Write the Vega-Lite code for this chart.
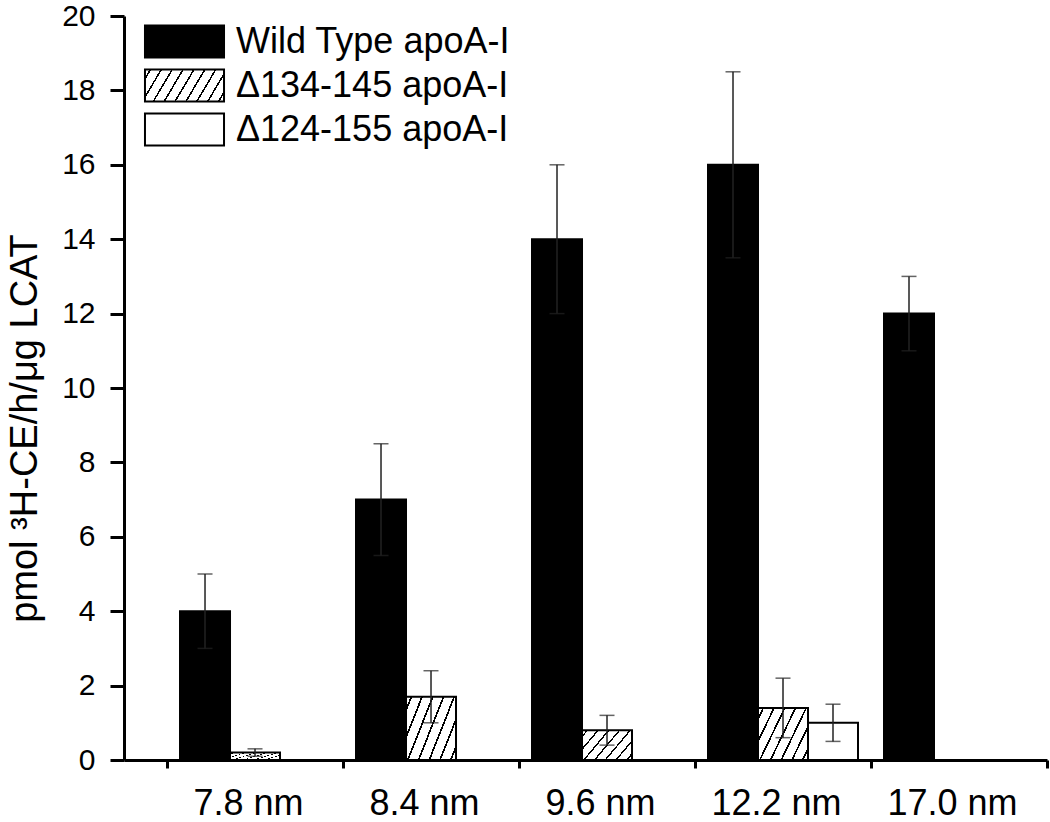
{
  "$schema": "https://vega.github.io/schema/vega-lite/v6.json",
  "width": 923,
  "height": 744,
  "autosize": {"type": "none"},
  "padding": {"left": 124, "top": 16, "right": 3, "bottom": 62},
  "background": "white",
  "config": {
    "view": {"stroke": null},
    "font": "Liberation Sans",
    "axisY": {
      "grid": false,
      "labelFontSize": 30,
      "labelFont": "Liberation Sans",
      "labelColor": "black",
      "tickSize": 14,
      "tickWidth": 3,
      "tickColor": "black",
      "domainWidth": 3,
      "domainColor": "black",
      "labelPadding": 15,
      "titleFontSize": 38,
      "titleFont": "Liberation Sans",
      "titleFontWeight": "normal",
      "titleColor": "black"
    }
  },
  "data": {
    "values": [
      {"size": "7.8 nm", "group": "Wild Type apoA-I", "value": 4, "lo": 3, "hi": 5},
      {"size": "7.8 nm", "group": "Δ134-145 apoA-I", "value": 0.2, "lo": 0.1, "hi": 0.3},
      {"size": "8.4 nm", "group": "Wild Type apoA-I", "value": 7, "lo": 5.5, "hi": 8.5},
      {"size": "8.4 nm", "group": "Δ134-145 apoA-I", "value": 1.7, "lo": 1.0, "hi": 2.4},
      {"size": "9.6 nm", "group": "Wild Type apoA-I", "value": 14, "lo": 12, "hi": 16},
      {"size": "9.6 nm", "group": "Δ134-145 apoA-I", "value": 0.8, "lo": 0.4, "hi": 1.2},
      {"size": "12.2 nm", "group": "Wild Type apoA-I", "value": 16, "lo": 13.5, "hi": 18.5},
      {"size": "12.2 nm", "group": "Δ134-145 apoA-I", "value": 1.4, "lo": 0.6, "hi": 2.2},
      {"size": "12.2 nm", "group": "Δ124-155 apoA-I", "value": 1.0, "lo": 0.5, "hi": 1.5},
      {"size": "17.0 nm", "group": "Wild Type apoA-I", "value": 12, "lo": 11, "hi": 13}
    ]
  },
  "encoding": {
    "x": {
      "field": "size",
      "type": "nominal",
      "sort": ["7.8 nm", "8.4 nm", "9.6 nm", "12.2 nm", "17.0 nm"],
      "scale": {"paddingInner": 0, "paddingOuter": 0.1222, "align": 1},
      "axis": {
        "title": null,
        "labelAngle": 0,
        "labelFontSize": 36,
        "labelFont": "Liberation Sans",
        "labelColor": "black",
        "labelOffset": -7,
        "tickBand": "extent",
        "tickSize": 8,
        "tickWidth": 3,
        "tickColor": "black",
        "domainWidth": 3,
        "domainColor": "black",
        "labelPadding": 18
      }
    },
    "xOffset": {
      "field": "group",
      "type": "nominal",
      "scale": {
        "domain": ["Wild Type apoA-I", "Δ134-145 apoA-I", "Δ124-155 apoA-I"],
        "paddingInner": 0,
        "paddingOuter": 0.26
      }
    }
  },
  "layer": [
    {
      "mark": {"type": "bar", "stroke": "black", "strokeWidth": 2},
      "encoding": {
        "y": {
          "field": "value",
          "type": "quantitative",
          "scale": {"domain": [0, 20], "nice": false},
          "axis": {"title": "pmol ³H-CE/h/μg LCAT", "values": [0, 2, 4, 6, 8, 10, 12, 14, 16, 18, 20], "titleAngle": -90, "titleX": -88, "titleY": 412, "titleAlign": "center", "titleBaseline": "alphabetic"}
        },
        "fill": {
          "field": "group",
          "type": "nominal",
          "scale": {
            "domain": ["Wild Type apoA-I", "Δ134-145 apoA-I", "Δ124-155 apoA-I"],
            "range": [
              "#000000",
              {"expr": "{gradient: 'linear', x1: 0, y1: 0, x2: 1.172, y2: 0.281, stops: [{offset: 0, color: '#ffffff'}, {offset: 0.0466, color: '#ffffff'}, {offset: 0.0466, color: '#000000'}, {offset: 0.0646, color: '#000000'}, {offset: 0.0646, color: '#ffffff'}, {offset: 0.1577, color: '#ffffff'}, {offset: 0.1577, color: '#000000'}, {offset: 0.1757, color: '#000000'}, {offset: 0.1757, color: '#ffffff'}, {offset: 0.2688, color: '#ffffff'}, {offset: 0.2688, color: '#000000'}, {offset: 0.2868, color: '#000000'}, {offset: 0.2868, color: '#ffffff'}, {offset: 0.3799, color: '#ffffff'}, {offset: 0.3799, color: '#000000'}, {offset: 0.3979, color: '#000000'}, {offset: 0.3979, color: '#ffffff'}, {offset: 0.491, color: '#ffffff'}, {offset: 0.491, color: '#000000'}, {offset: 0.509, color: '#000000'}, {offset: 0.509, color: '#ffffff'}, {offset: 0.6021, color: '#ffffff'}, {offset: 0.6021, color: '#000000'}, {offset: 0.6201, color: '#000000'}, {offset: 0.6201, color: '#ffffff'}, {offset: 0.7132, color: '#ffffff'}, {offset: 0.7132, color: '#000000'}, {offset: 0.7312, color: '#000000'}, {offset: 0.7312, color: '#ffffff'}, {offset: 0.8243, color: '#ffffff'}, {offset: 0.8243, color: '#000000'}, {offset: 0.8423, color: '#000000'}, {offset: 0.8423, color: '#ffffff'}, {offset: 0.9354, color: '#ffffff'}, {offset: 0.9354, color: '#000000'}, {offset: 0.9534, color: '#000000'}, {offset: 0.9534, color: '#ffffff'}, {offset: 1, color: '#ffffff'}]}"},
              "#ffffff"
            ]
          },
          "condition": {
            "test": "datum.group === 'Δ134-145 apoA-I'",
            "value": {
              "gradient": "linear",
              "x1": 0, "y1": 0, "x2": 1.2, "y2": 0.6,
              "stops": [
                {"offset": 0, "color": "#ffffff"},
                {"offset": 0.059, "color": "#ffffff"}, {"offset": 0.059, "color": "#000000"}, {"offset": 0.083, "color": "#000000"}, {"offset": 0.083, "color": "#ffffff"},
                {"offset": 0.202, "color": "#ffffff"}, {"offset": 0.202, "color": "#000000"}, {"offset": 0.226, "color": "#000000"}, {"offset": 0.226, "color": "#ffffff"},
                {"offset": 0.345, "color": "#ffffff"}, {"offset": 0.345, "color": "#000000"}, {"offset": 0.369, "color": "#000000"}, {"offset": 0.369, "color": "#ffffff"},
                {"offset": 0.488, "color": "#ffffff"}, {"offset": 0.488, "color": "#000000"}, {"offset": 0.512, "color": "#000000"}, {"offset": 0.512, "color": "#ffffff"},
                {"offset": 0.631, "color": "#ffffff"}, {"offset": 0.631, "color": "#000000"}, {"offset": 0.655, "color": "#000000"}, {"offset": 0.655, "color": "#ffffff"},
                {"offset": 0.774, "color": "#ffffff"}, {"offset": 0.774, "color": "#000000"}, {"offset": 0.798, "color": "#000000"}, {"offset": 0.798, "color": "#ffffff"},
                {"offset": 0.917, "color": "#ffffff"}, {"offset": 0.917, "color": "#000000"}, {"offset": 0.941, "color": "#000000"}, {"offset": 0.941, "color": "#ffffff"},
                {"offset": 1, "color": "#ffffff"}
              ]
            }
          },
          "legend": {
            "orient": "none",
            "legendX": 42.5,
            "legendY": 7.5,
            "title": null,
            "padding": 0,
            "symbolType": "M-2.47,-1H2.47V1H-2.47Z",
            "symbolSize": 1024,
            "symbolStrokeColor": "black",
            "symbolStrokeWidth": 2,
            "symbolOpacity": 1,
            "labelFontSize": 36,
            "labelFont": "Liberation Sans",
            "labelColor": "black",
            "labelOffset": 33.5,
            "rowPadding": 4,
            "labelLimit": 500
          }
        }
      }
    },
    {
      "mark": {"type": "rule", "color": "#222222", "strokeWidth": 1.5},
      "encoding": {
        "y": {
          "field": "lo",
          "type": "quantitative",
          "scale": {"domain": [0, 20], "nice": false},
          "axis": {"title": "pmol ³H-CE/h/μg LCAT", "values": [0, 2, 4, 6, 8, 10, 12, 14, 16, 18, 20], "titleAngle": -90, "titleX": -88, "titleY": 412, "titleAlign": "center", "titleBaseline": "alphabetic"}
        },
        "y2": {"field": "hi"}
      }
    },
    {
      "mark": {"type": "tick", "color": "#222222", "thickness": 1.5, "size": 15},
      "encoding": {
        "y": {
          "field": "hi",
          "type": "quantitative",
          "scale": {"domain": [0, 20], "nice": false},
          "axis": {"title": "pmol ³H-CE/h/μg LCAT", "values": [0, 2, 4, 6, 8, 10, 12, 14, 16, 18, 20], "titleAngle": -90, "titleX": -88, "titleY": 412, "titleAlign": "center", "titleBaseline": "alphabetic"}
        }
      }
    },
    {
      "mark": {"type": "tick", "color": "#222222", "thickness": 1.5, "size": 15},
      "encoding": {
        "y": {
          "field": "lo",
          "type": "quantitative",
          "scale": {"domain": [0, 20], "nice": false},
          "axis": {"title": "pmol ³H-CE/h/μg LCAT", "values": [0, 2, 4, 6, 8, 10, 12, 14, 16, 18, 20], "titleAngle": -90, "titleX": -88, "titleY": 412, "titleAlign": "center", "titleBaseline": "alphabetic"}
        }
      }
    }
  ]
}
